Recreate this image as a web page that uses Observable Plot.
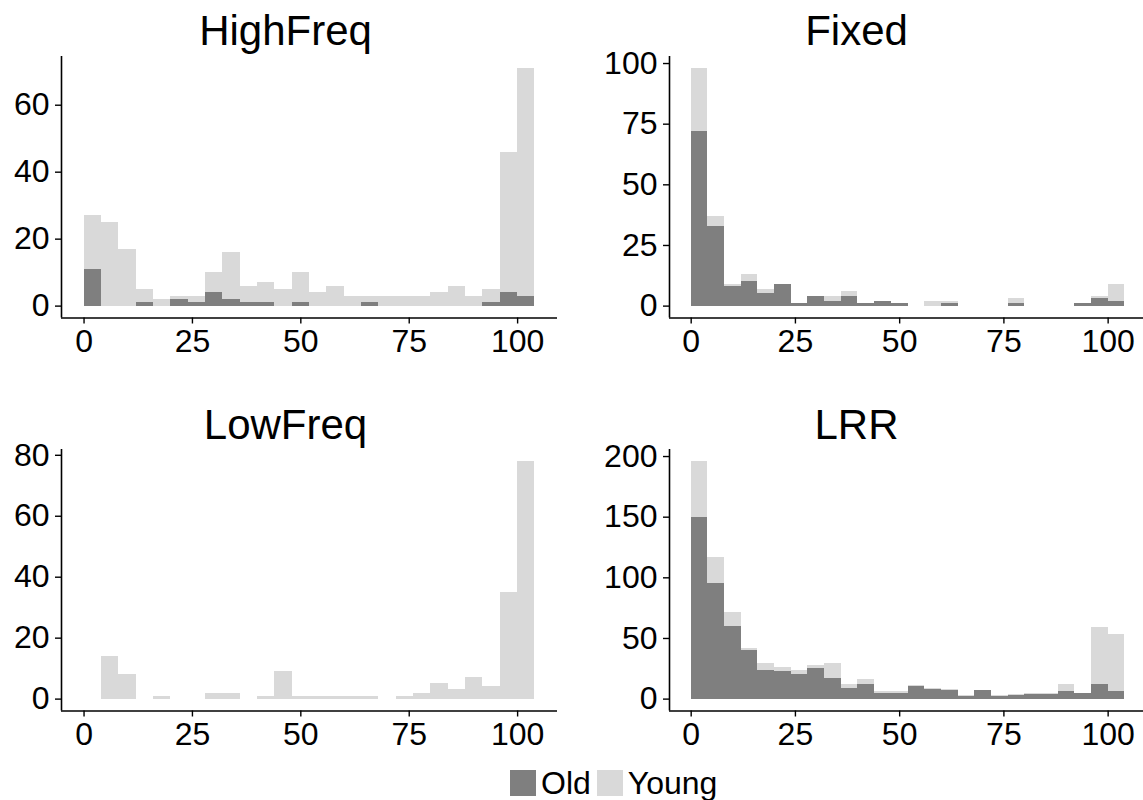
<!DOCTYPE html>
<html>
<head>
<meta charset="utf-8">
<script src="https://cdn.jsdelivr.net/npm/d3@7"></script>
<script src="https://cdn.jsdelivr.net/npm/@observablehq/plot@0.6"></script>
<style>
  html, body { margin: 0; padding: 0; background: #fff; overflow: hidden; }
  #wrap { position: relative; width: 1143px; height: 800px; overflow: hidden;
          font-family: "Liberation Sans", Arial, Helvetica, sans-serif; color: #000; }
  .panel { position: absolute; }
  .title { position: absolute; width: 571px; text-align: center; font-size: 42px; line-height: 42px; }
  #legend { position: absolute; left: 510px; top: 767px; display: flex; align-items: center;
            font-size: 32px; line-height: 32px; }
  .sw { display: inline-block; width: 26px; height: 26px; margin-right: 5px; }
  .lab { margin-right: 6px; }
</style>
</head>
<body>
<div id="wrap"></div>
<script>
// ---- data ----
const binStarts = [0, 4, 8, 12, 16, 20, 24, 28, 32, 36, 40, 44, 48, 52, 56, 60, 64, 68, 72, 76, 80, 84, 88, 92, 96, 100];
const binWidth = 4;
const groups = ["Old", "Young"];
const groupColors = ["#7f7f7f", "#d9d9d9"];
const xTicks = [0, 25, 50, 75, 100];

const highFreqOld   = [11, 0, 0, 1, 0, 2, 1, 4, 2, 1, 1, 0, 1, 0, 0, 0, 1, 0, 0, 0, 0, 0, 0, 1, 4, 3];
const highFreqYoung = [16, 25, 17, 4, 2, 1, 2, 6, 14, 5, 6, 5, 9, 4, 6, 3, 2, 3, 3, 3, 4, 6, 3, 4, 42, 68];
const highFreqTicks = [0, 20, 40, 60];

const fixedOld   = [72, 33, 8, 10, 5, 9, 1, 4, 2, 4, 1, 2, 1, 0, 0, 1, 0, 0, 0, 1, 0, 0, 0, 1, 3, 2];
const fixedYoung = [26, 4, 1, 3, 2, 0, 0, 0, 2, 2, 0, 0, 0, 0, 2, 1, 0, 0, 0, 2, 0, 0, 0, 0, 1, 7];
const fixedTicks = [0, 25, 50, 75, 100];

const lowFreqOld   = [0, 0, 0, 0, 0, 0, 0, 0, 0, 0, 0, 0, 0, 0, 0, 0, 0, 0, 0, 0, 0, 0, 0, 0, 0, 0];
const lowFreqYoung = [0, 14, 8, 0, 1, 0, 0, 2, 2, 0, 1, 9, 1, 1, 1, 1, 1, 0, 1, 2, 5, 3, 7, 4, 35, 78];
const lowFreqTicks = [0, 20, 40, 60, 80];

const lrrOld   = [150, 95, 60, 40, 24, 23, 20, 25, 17, 9, 12, 5, 5, 10, 8, 7, 2, 7, 2, 3, 4, 4, 6, 5, 12, 6];
const lrrYoung = [46, 22, 11, 2, 5, 3, 4, 3, 12, 3, 4, 1, 1, 1, 1, 1, 1, 0, 1, 1, 1, 1, 6, 0, 47, 47];
const lrrTicks = [0, 50, 100, 150, 200];

const panels = [
  {name: "HighFreq", old: highFreqOld, young: highFreqYoung, ticks: highFreqTicks, col: 0, row: 0},
  {name: "Fixed",    old: fixedOld,    young: fixedYoung,    ticks: fixedTicks,    col: 1, row: 0},
  {name: "LowFreq",  old: lowFreqOld,  young: lowFreqYoung,  ticks: lowFreqTicks,  col: 0, row: 1},
  {name: "LRR",      old: lrrOld,      young: lrrYoung,      ticks: lrrTicks,      col: 1, row: 1}
];

// ---- layout ----
const FONT = '"Liberation Sans", Arial, Helvetica, sans-serif';
const colLayout = [
  {left: 0,   width: 571, marginLeft: 61, marginRight: 14},
  {left: 571, width: 575, marginLeft: 98, marginRight: 0}
];
const rowTop = [0, 392.5];
const titleTop = [9.5, 404];
const svgH = 392;

const wrap = document.getElementById("wrap");

for (const p of panels) {
  const rows = [];
  groups.forEach((g, gi) => {
    const vals = gi === 0 ? p.old : p.young;
    binStarts.forEach((b, i) => rows.push({x1: b, x2: b + binWidth, n: vals[i], group: g}));
  });
  const totals = binStarts.map((_, i) => p.old[i] + p.young[i]);
  const xExt = [binStarts[0], binStarts[binStarts.length - 1] + binWidth];
  const xPad = 0.05 * (xExt[1] - xExt[0]);
  const xDomain = [xExt[0] - xPad, xExt[1] + xPad];
  const yMax = d3.max(totals);
  const yDomain = [-0.05 * yMax, 1.05 * yMax];
  const c = colLayout[p.col];

  const chart = Plot.plot({
    width: c.width,
    height: svgH,
    marginLeft: c.marginLeft,
    marginRight: c.marginRight,
    marginTop: 56,
    marginBottom: svgH - 317.5,
    style: {fontFamily: FONT, fontSize: "32px", color: "#000", background: "transparent", overflow: "visible"},
    x: {domain: xDomain, axis: null},
    y: {domain: yDomain, axis: null},
    color: {domain: groups, range: groupColors},
    marks: [
      Plot.rectY(rows, {x1: "x1", x2: "x2", y: "n", fill: "group", z: "group", order: groups, shapeRendering: "crispEdges"}),
      Plot.ruleX([xDomain[0]], {stroke: "#000", strokeWidth: 1.6}),
      Plot.ruleY([yDomain[0]], {stroke: "#000", strokeWidth: 1.6}),
      Plot.axisY(p.ticks, {anchor: "left", tickSize: 6, tickPadding: 6, fontSize: 32, stroke: "#000", strokeWidth: 1.4, fill: "#000", label: null}),
      Plot.axisX(xTicks, {anchor: "bottom", tickSize: 6, tickPadding: 5, fontSize: 32, stroke: "#000", strokeWidth: 1.4, fill: "#000", label: null})
    ]
  });
  chart.classList.add("panel");
  chart.style.left = c.left + "px";
  chart.style.top = rowTop[p.row] + "px";
  wrap.appendChild(chart);

  const t = document.createElement("div");
  t.className = "title";
  t.textContent = p.name;
  t.style.left = (p.col * 571) + "px";
  t.style.top = titleTop[p.row] + "px";
  wrap.appendChild(t);
}

// legend
const lg = document.createElement("div");
lg.id = "legend";
groups.forEach((g, i) => {
  const sw = document.createElement("span");
  sw.className = "sw";
  sw.style.background = groupColors[i];
  const lab = document.createElement("span");
  lab.className = "lab";
  lab.textContent = g;
  lg.appendChild(sw);
  lg.appendChild(lab);
});
wrap.appendChild(lg);
</script>
</body>
</html>
